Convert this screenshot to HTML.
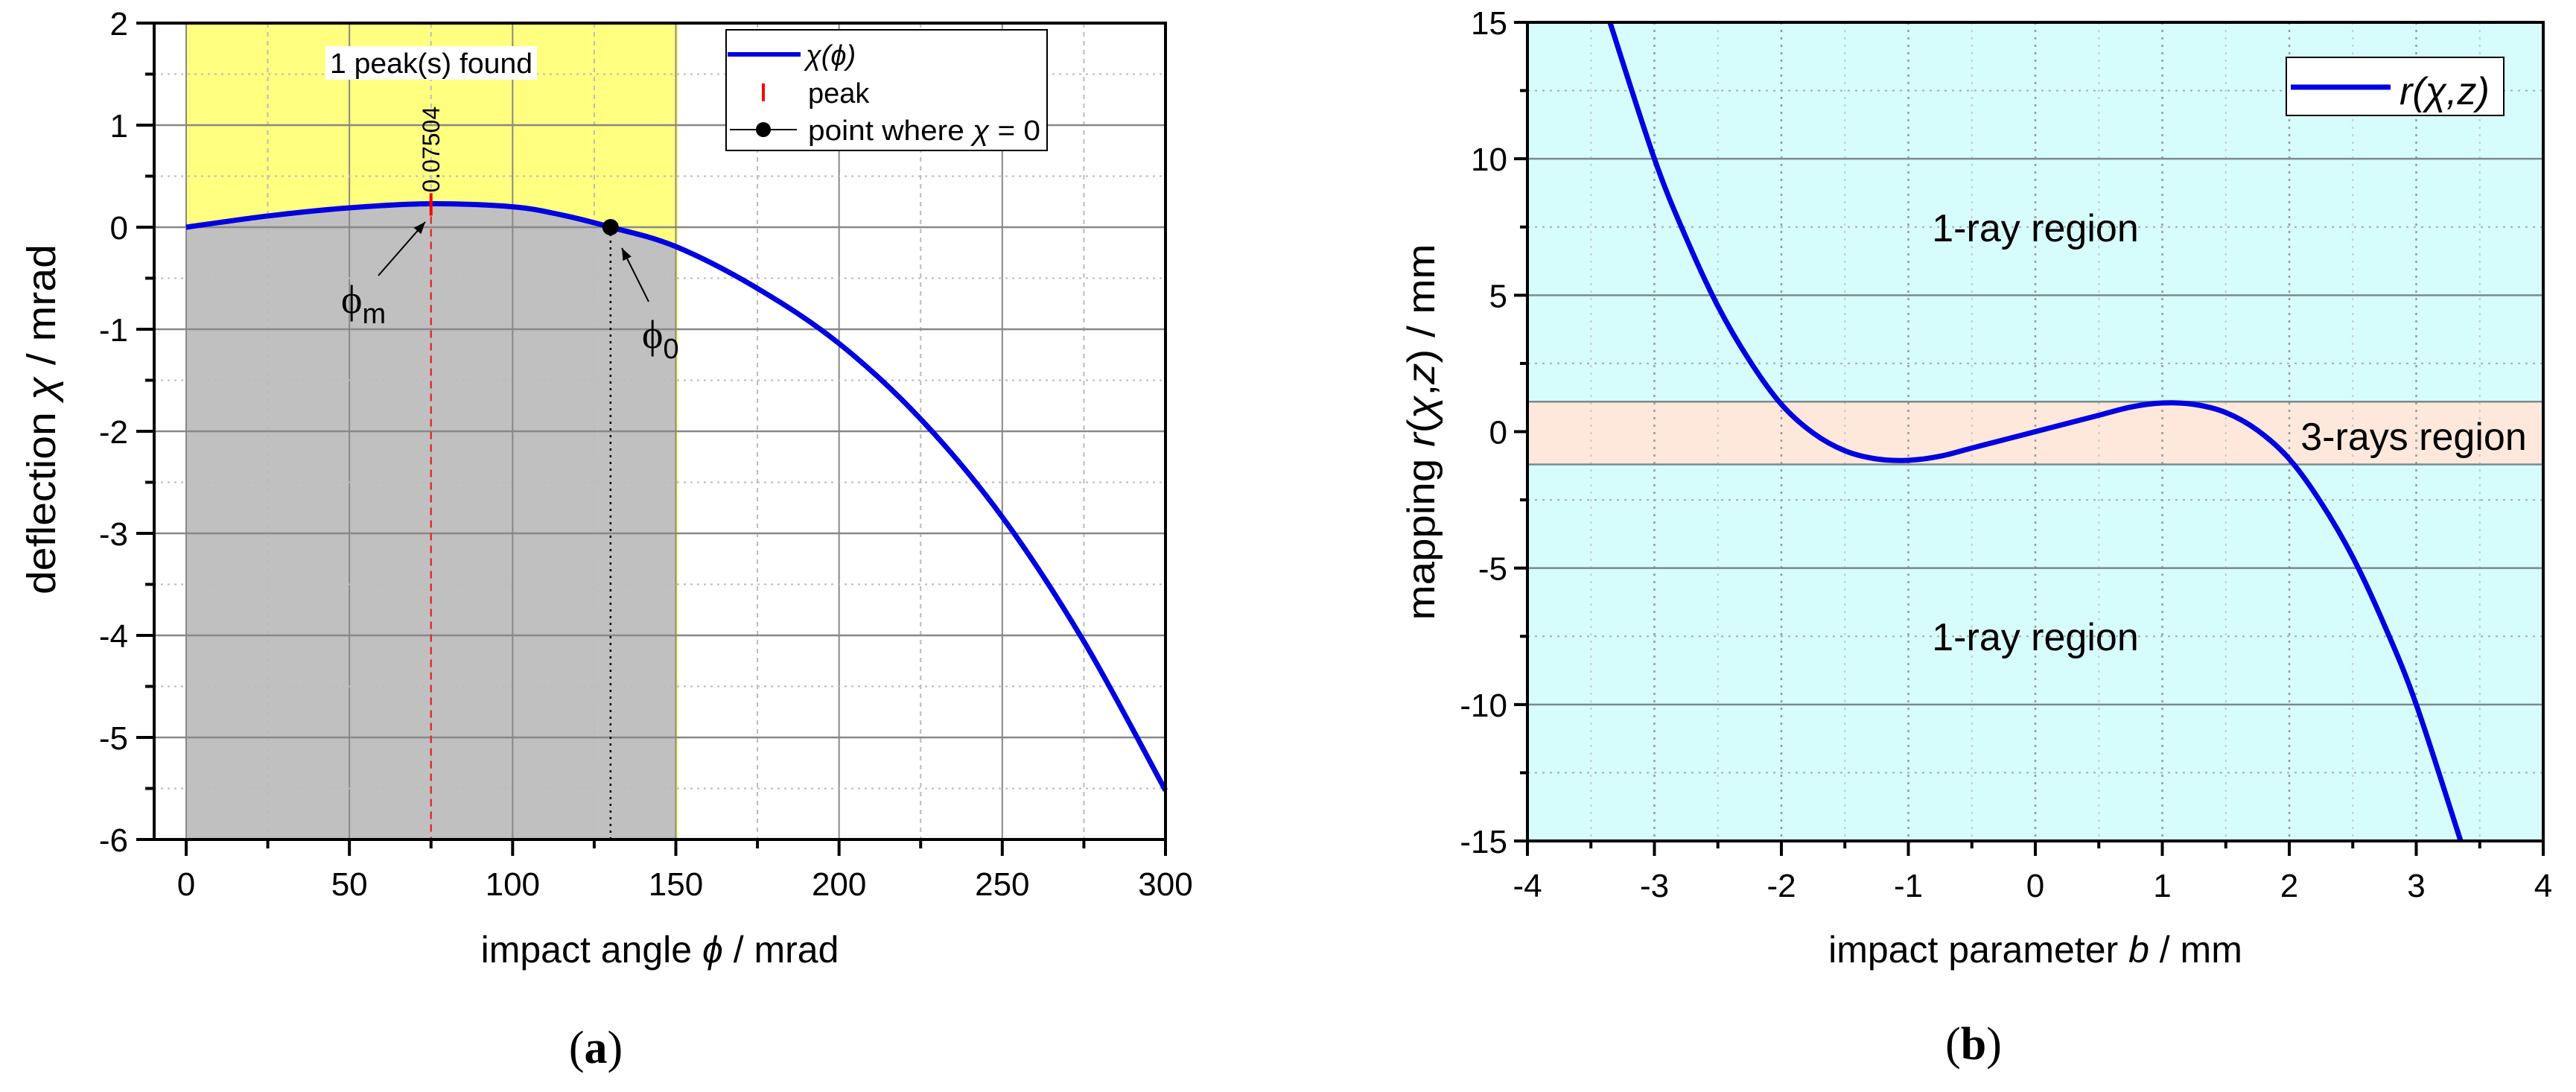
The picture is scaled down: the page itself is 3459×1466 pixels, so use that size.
<!DOCTYPE html>
<html><head><meta charset="utf-8"><style>
html,body{margin:0;padding:0;background:#fff;}
svg{display:block;font-family:"Liberation Sans",sans-serif;}
</style></head><body>
<svg id="fig" width="3459" height="1466" viewBox="0 0 3459 1466" xmlns="http://www.w3.org/2000/svg">
<g id="pa"></g>
<g id="pb"></g>
</svg>
<script>
// ---- Panel (a) data ----
const aPhi = [0, 25, 50, 75, 100, 115, 130, 150, 175, 200, 225, 250, 275, 300];
const aChi = [0, 0.11, 0.19, 0.23, 0.2, 0.12, 0, -0.19, -0.6, -1.14, -1.88, -2.84, -4.06, -5.52];
const aXTicks = [0, 50, 100, 150, 200, 250, 300];
const aYTicks = [2, 1, 0, -1, -2, -3, -4, -5, -6];
const aPeakX = [75];
const aPeakY = [0.23];
const aPeakLabel = ["0.07504"];
const aZeroX = [130];
const aRegion = [0, 150];
// ---- Panel (b) data ----
const bB = [-3.35, -3, -2.75, -2.5, -2.25, -2, -1.75, -1.5, -1.25, -1, -0.75, -0.5, -0.25, 0, 0.25, 0.5, 0.75, 1, 1.25, 1.5, 1.75, 2, 2.25, 2.5, 2.75, 3, 3.35];
const bR = [15, 10, 7.1, 4.6, 2.6, 1.0, -0.05, -0.7, -1.0, -1.05, -0.9, -0.6, -0.3, 0, 0.3, 0.6, 0.9, 1.05, 1.0, 0.7, 0.05, -1.0, -2.6, -4.6, -7.1, -10, -15];
const bXTicks = [-4, -3, -2, -1, 0, 1, 2, 3, 4];
const bYTicks = [15, 10, 5, 0, -5, -10, -15];
const bBand = [1.1, -1.2];

const NS = "http://www.w3.org/2000/svg";
function mk(parent, tag, attrs, text) {
  const e = document.createElementNS(NS, tag);
  for (const k in attrs) e.setAttribute(k, attrs[k]);
  if (text !== undefined) e.textContent = text;
  parent.appendChild(e);
  return e;
}
function pathFrom(xs, ys, fx, fy) {
  const p = xs.map((x, i) => [fx(x), fy(ys[i])]);
  let d = "M" + p[0][0] + "," + p[0][1];
  for (let i = 0; i < p.length - 1; i++) {
    const p0 = p[i - 1] || p[i], p1 = p[i], p2 = p[i + 1], p3 = p[i + 2] || p2;
    const c1 = [p1[0] + (p2[0] - p0[0]) / 6, p1[1] + (p2[1] - p0[1]) / 6];
    const c2 = [p2[0] - (p3[0] - p1[0]) / 6, p2[1] - (p3[1] - p1[1]) / 6];
    d += " C" + c1 + " " + c2 + " " + p2;
  }
  return d;
}

// ================= Panel A =================
(function () {
  const g = document.getElementById('pa');
  const L = 207, R = 1565, T = 31, B = 1127;
  const x0 = 250, x300 = 1565;
  const fx = v => x0 + (v - 0) * (x300 - x0) / 300;
  const fy = v => T + (2 - v) * (B - T) / 8;
  const rx1 = fx(aRegion[0]), rx2 = fx(aRegion[1]);
  const y1 = mk(g, 'rect', {x: rx1, y: T, width: rx2 - rx1 + 3, height: B - T, fill: '#ffff80'});
  
  
  const xs = [], ys = [];
  aPhi.forEach((v, i) => { if (v <= aRegion[1]) { xs.push(v); ys.push(aChi[i]); } });
  let gd = pathFrom(xs, ys, fx, fy) + " L" + rx2 + "," + B + " L" + rx1 + "," + B + " Z";
  const gp = mk(g, 'path', {d: gd, fill: '#c0c0c0'});
  
  
  for (let v = 25; v < 300; v += 50) {
    const e = mk(g, 'line', {x1: fx(v), x2: fx(v), y1: T, y2: B, stroke: '#bbb', 'stroke-width': 2, 'stroke-dasharray': '6,6'});
    
    
  }
  aXTicks.forEach(v => {
    const e = mk(g, 'line', {x1: fx(v), x2: fx(v), y1: T, y2: B, stroke: '#888', 'stroke-width': 2});
    
    
  });
  for (let v = 1.5; v > -6; v -= 1) {
    const e = mk(g, 'line', {x1: L, x2: R, y1: fy(v), y2: fy(v), stroke: '#bbb', 'stroke-width': 2, 'stroke-dasharray': '3,6'});
    
    
  }
  aYTicks.forEach(v => {
    if (v === 2 || v === -6) return;
    const e = mk(g, 'line', {x1: L, x2: R, y1: fy(v), y2: fy(v), stroke: '#888', 'stroke-width': 2.5});
    
    
  });
  aPeakX.forEach((v, i) => {
    const e = mk(g, 'line', {x1: fx(v), x2: fx(v), y1: fy(aPeakY[i]), y2: B, stroke: '#e03030', 'stroke-width': 2.5, 'stroke-dasharray': '10,7'});
    
    
  });
  aZeroX.forEach(v => {
    const e = mk(g, 'line', {x1: fx(v), x2: fx(v), y1: fy(0), y2: B, stroke: '#000', 'stroke-width': 2.5, 'stroke-dasharray': '3,6'});
    
    
  });
  const c = mk(g, 'path', {d: pathFrom(aPhi, aChi, fx, fy), fill: 'none', stroke: '#0000e0', 'stroke-width': 7});
  
  
  aPeakX.forEach((v, i) => {
    const e = mk(g, 'line', {x1: fx(v), x2: fx(v), y1: fy(aPeakY[i]) - 14, y2: fy(aPeakY[i]) + 16, stroke: '#ff0000', 'stroke-width': 4});
    
    
    const t = mk(g, 'text', {x: 0, y: 0, 'font-size': 32, transform: 'translate(' + (fx(v) + 11) + ',' + (fy(aPeakY[i]) - 15) + ') rotate(-90)'}, aPeakLabel[i]);
    
    
  });
  aZeroX.forEach(v => {
    const e = mk(g, 'circle', {cx: fx(v), cy: fy(0), r: 11, fill: '#000'});
    
    
  });
  const defs = mk(g, 'defs', {});
  const m = mk(defs, 'marker', {id: 'arr', viewBox: '0 0 10 10', refX: 10, refY: 5, markerWidth: 8, markerHeight: 8, orient: 'auto'});
  mk(m, 'path', {d: 'M0,1 L10,5 L0,9 z', fill: '#000'});
  const a1 = mk(g, 'line', {x1: 508, y1: 370, x2: 571, y2: 298, stroke: '#000', 'stroke-width': 2, 'marker-end': 'url(#arr)'});
  
  
  const a2 = mk(g, 'line', {x1: 871, y1: 405, x2: 835, y2: 333, stroke: '#000', 'stroke-width': 2, 'marker-end': 'url(#arr)'});
  
  
  const t1 = mk(g, 'text', {x: 458, y: 420, 'font-size': 54, 'font-family': 'Liberation Serif, serif'});
  
  
  t1.innerHTML = 'ϕ<tspan font-size="38" font-family="Liberation Sans" dy="14">m</tspan>';
  const t2 = mk(g, 'text', {x: 862, y: 467, 'font-size': 54, 'font-family': 'Liberation Serif, serif'});
  
  
  t2.innerHTML = 'ϕ<tspan font-size="38" font-family="Liberation Sans" dy="14">0</tspan>';
  const pb = mk(g, 'rect', {x: 437, y: 62, width: 284, height: 45, fill: '#fff'});
  
  
  const pt = mk(g, 'text', {x: 579, y: 98, 'font-size': 38, 'text-anchor': 'middle', textLength: 272, lengthAdjust: 'spacingAndGlyphs'}, '1 peak(s) found');
  
  
  const lg = mk(g, 'g', {});
  
  
  mk(lg, 'rect', {x: 975, y: 40, width: 431, height: 162, fill: '#fff', stroke: '#000', 'stroke-width': 2});
  mk(lg, 'line', {x1: 977, x2: 1075, y1: 73, y2: 73, stroke: '#0000e0', 'stroke-width': 6});
  mk(lg, 'text', {x: 1082, y: 87, 'font-size': 38, 'font-style': 'italic'}, 'χ(ϕ)');
  mk(lg, 'line', {x1: 1025, x2: 1025, y1: 112, y2: 136, stroke: '#ff0000', 'stroke-width': 4});
  mk(lg, 'text', {x: 1085, y: 138, 'font-size': 38}, 'peak');
  mk(lg, 'line', {x1: 980, x2: 1070, y1: 174, y2: 174, stroke: '#000', 'stroke-width': 2});
  mk(lg, 'circle', {cx: 1025, cy: 174, r: 10, fill: '#000'});
  const lt = mk(lg, 'text', {x: 1085, y: 188, 'font-size': 38, textLength: 312, lengthAdjust: 'spacingAndGlyphs'});
  lt.innerHTML = 'point where <tspan font-style="italic">χ</tspan> = 0';
  const ax = mk(g, 'path', {d: 'M' + L + ',' + T + ' H' + R + ' V' + B + ' H' + L + ' Z', fill: 'none', stroke: '#000', 'stroke-width': 4});
  
  
  aYTicks.forEach(v => {
    mk(g, 'line', {x1: L - 24, x2: L, y1: fy(v), y2: fy(v), stroke: '#000', 'stroke-width': 4});
    const t = mk(g, 'text', {x: 172, y: fy(v) + 16, 'font-size': 44, 'text-anchor': 'end'}, v < 0 ? '-' + Math.abs(v) : String(v));
    
    
  });
  for (let v = 1.5; v > -6; v -= 1) mk(g, 'line', {x1: L - 12, x2: L, y1: fy(v), y2: fy(v), stroke: '#000', 'stroke-width': 4});
  aXTicks.forEach(v => {
    mk(g, 'line', {x1: fx(v), x2: fx(v), y1: B, y2: B + 22, stroke: '#000', 'stroke-width': 4});
    const t = mk(g, 'text', {x: fx(v), y: 1202, 'font-size': 44, 'text-anchor': 'middle'}, String(v));
    
    
  });
  for (let v = 25; v < 300; v += 50) mk(g, 'line', {x1: fx(v), x2: fx(v), y1: B, y2: B + 12, stroke: '#000', 'stroke-width': 4});
  const xt = mk(g, 'text', {x: 886, y: 1292, 'font-size': 50, 'text-anchor': 'middle'});
  
  
  xt.innerHTML = 'impact angle <tspan font-style="italic">ϕ</tspan> / mrad';
  const yt = mk(g, 'text', {x: 0, y: 0, 'font-size': 54, 'text-anchor': 'middle', transform: 'translate(74,563) rotate(-90)', textLength: 470, lengthAdjust: 'spacingAndGlyphs'});
  
  
  yt.innerHTML = 'deflection <tspan font-style="italic">χ</tspan> / mrad';
  const cap = mk(g, 'text', {x: 800, y: 1427, 'font-size': 62, 'text-anchor': 'middle', 'font-family': 'Liberation Serif, serif'});
  
  
  cap.innerHTML = '(<tspan font-weight="bold">a</tspan>)';
})();

// ================= Panel B =================
(function () {
  const g = document.getElementById('pb');
  const L = 2051, R = 3415, T = 30, B = 1129;
  const fx = v => L + (v + 4) * (R - L) / 8;
  const fy = v => T + (15 - v) * (B - T) / 30;
  const bg = mk(g, 'rect', {x: L, y: T, width: R - L, height: B - T, fill: '#d6fcfc'});
  
  
  const band = mk(g, 'rect', {x: L, y: fy(bBand[0]), width: R - L, height: fy(bBand[1]) - fy(bBand[0]), fill: '#fee8dc'});
  
  
  for (let v = -3.5; v < 4; v += 1) mk(g, 'line', {x1: fx(v), x2: fx(v), y1: T, y2: B, stroke: '#c8c8c8', 'stroke-width': 2, 'stroke-dasharray': '3,7'});
  bXTicks.forEach(v => { if (Math.abs(v) < 4) mk(g, 'line', {x1: fx(v), x2: fx(v), y1: T, y2: B, stroke: '#999', 'stroke-width': 2.5, 'stroke-dasharray': '3,7'}); });
  for (let v = 12.5; v > -15; v -= 5) mk(g, 'line', {x1: L, x2: R, y1: fy(v), y2: fy(v), stroke: '#aaa', 'stroke-width': 2, 'stroke-dasharray': '3,7'});
  bYTicks.forEach(v => { if (Math.abs(v) < 15 && v !== 0) mk(g, 'line', {x1: L, x2: R, y1: fy(v), y2: fy(v), stroke: '#7a8a8a', 'stroke-width': 2.5}); });
  bBand.forEach(v => mk(g, 'line', {x1: L, x2: R, y1: fy(v), y2: fy(v), stroke: '#7a8a8a', 'stroke-width': 2.5}));
  const c = mk(g, 'path', {d: pathFrom(bB, bR, fx, fy), fill: 'none', stroke: '#0000e0', 'stroke-width': 7});
  
  
  const l1 = mk(g, 'text', {x: 2733, y: 324, 'font-size': 52, 'text-anchor': 'middle'}, '1-ray region');
  
  
  const l2 = mk(g, 'text', {x: 2733, y: 873, 'font-size': 52, 'text-anchor': 'middle'}, '1-ray region');
  
  
  const l3 = mk(g, 'text', {x: 3241, y: 604, 'font-size': 52, 'text-anchor': 'middle'}, '3-rays region');
  
  
  const lg = mk(g, 'g', {});
  
  
  mk(lg, 'rect', {x: 3070, y: 77, width: 292, height: 78, fill: '#fff', stroke: '#000', 'stroke-width': 2});
  mk(lg, 'line', {x1: 3076, x2: 3210, y1: 117, y2: 117, stroke: '#0000e0', 'stroke-width': 7});
  mk(lg, 'text', {x: 3222, y: 140, 'font-size': 52, 'font-style': 'italic'}, 'r(χ,z)');
  const ax = mk(g, 'path', {d: 'M' + L + ',' + T + ' H' + R + ' V' + B + ' H' + L + ' Z', fill: 'none', stroke: '#000', 'stroke-width': 4});
  
  
  bYTicks.forEach(v => {
    mk(g, 'line', {x1: L - 18, x2: L, y1: fy(v), y2: fy(v), stroke: '#000', 'stroke-width': 4});
    const t = mk(g, 'text', {x: 2024, y: fy(v) + 16, 'font-size': 44, 'text-anchor': 'end'}, v < 0 ? '-' + Math.abs(v) : String(v));
    
    
  });
  for (let v = 12.5; v > -15; v -= 5) mk(g, 'line', {x1: L - 10, x2: L, y1: fy(v), y2: fy(v), stroke: '#000', 'stroke-width': 4});
  bXTicks.forEach(v => {
    mk(g, 'line', {x1: fx(v), x2: fx(v), y1: B, y2: B + 20, stroke: '#000', 'stroke-width': 4});
    const t = mk(g, 'text', {x: fx(v), y: 1204, 'font-size': 44, 'text-anchor': 'middle'}, v < 0 ? '-' + Math.abs(v) : String(v));
    
    
  });
  for (let v = -3.5; v < 4; v += 1) mk(g, 'line', {x1: fx(v), x2: fx(v), y1: B, y2: B + 10, stroke: '#000', 'stroke-width': 4});
  const xt = mk(g, 'text', {x: 2733, y: 1292, 'font-size': 50, 'text-anchor': 'middle'});
  
  
  xt.innerHTML = 'impact parameter <tspan font-style="italic">b</tspan> / mm';
  const yt = mk(g, 'text', {x: 0, y: 0, 'font-size': 52, 'text-anchor': 'middle', transform: 'translate(1926,580) rotate(-90)', textLength: 505, lengthAdjust: 'spacingAndGlyphs'});
  
  
  yt.innerHTML = 'mapping <tspan font-style="italic">r</tspan>(<tspan font-style="italic">χ</tspan>,<tspan font-style="italic">z</tspan>) / mm';
  const cap = mk(g, 'text', {x: 2650, y: 1422, 'font-size': 62, 'text-anchor': 'middle', 'font-family': 'Liberation Serif, serif'});
  
  
  cap.innerHTML = '(<tspan font-weight="bold">b</tspan>)';
})();
</script>
</body></html>
